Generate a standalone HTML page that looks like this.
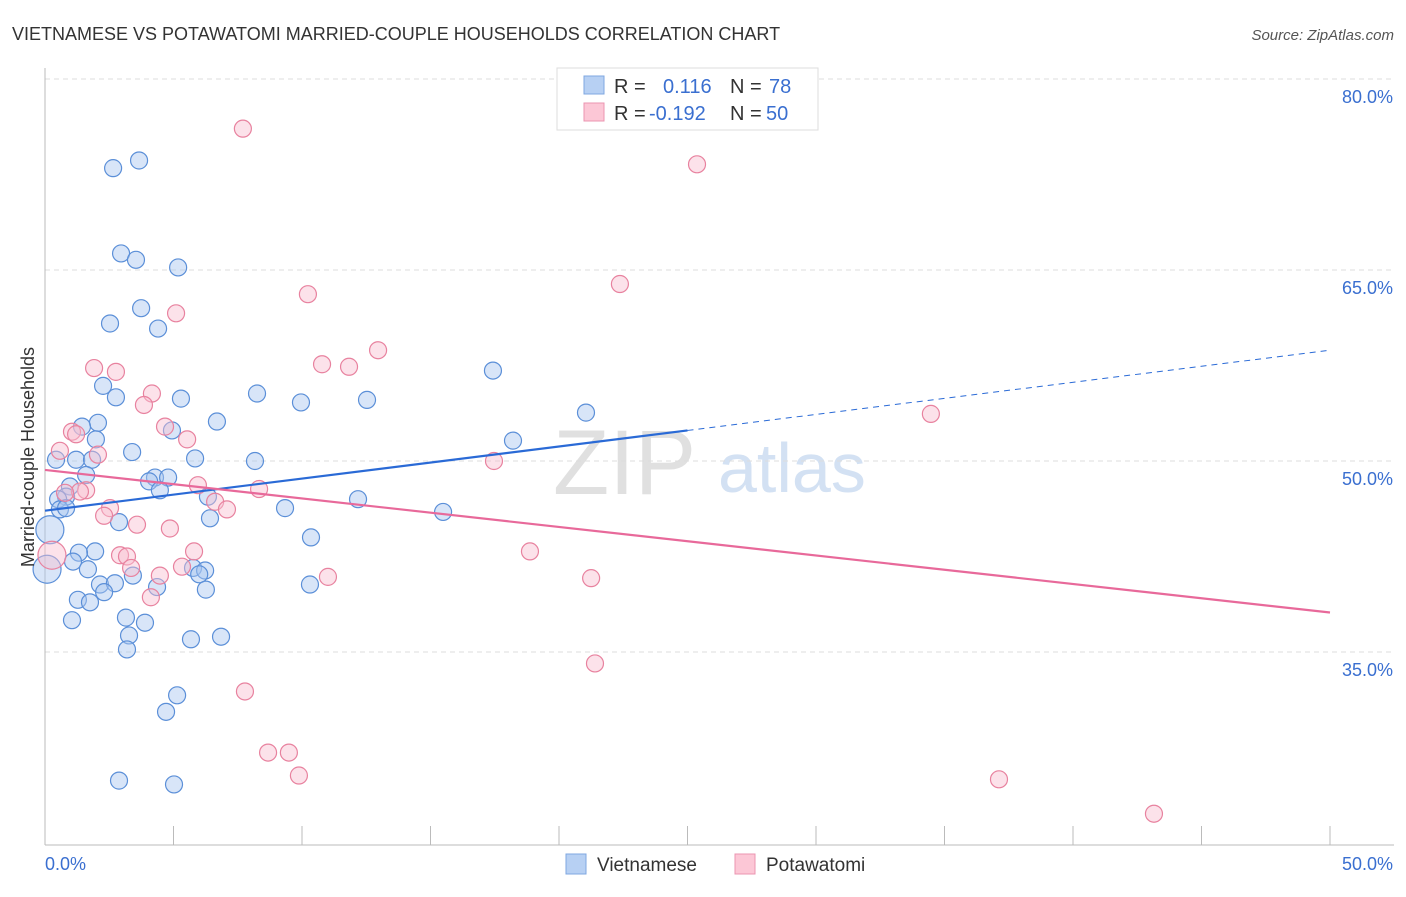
<!DOCTYPE html>
<html><head><meta charset="utf-8"><style>
body{margin:0;background:#fff;font-family:"Liberation Sans",sans-serif;}
svg text{font-family:"Liberation Sans",sans-serif;}
</style></head><body>
<svg id="c" width="1406" height="892" xmlns="http://www.w3.org/2000/svg">
<text x="12" y="40" font-size="18" fill="#333">VIETNAMESE VS POTAWATOMI MARRIED-COUPLE HOUSEHOLDS CORRELATION CHART</text>
<text x="1394" y="40" font-size="15" fill="#555" font-style="italic" text-anchor="end">Source: ZipAtlas.com</text>
<text x="553" y="494" font-size="92" fill="#e0e0e0" font-family="Liberation Serif">ZIP</text>
<text x="718" y="492" font-size="70" fill="#d3e1f3">atlas</text>
<g id="grid"></g>
<g id="axes"></g>
<g id="pts"></g>
<g id="trend"></g>
<text transform="translate(34,457) rotate(-90)" font-size="18" fill="#333" text-anchor="middle">Married-couple Households</text>
<g>
<rect x="557" y="68" width="261" height="62" fill="#fff" stroke="#ddd"/>
<rect x="584" y="76" width="20" height="18" fill="#b7d0f3" stroke="#7fa7e0"/>
<rect x="584" y="103" width="20" height="18" fill="#fcc7d6" stroke="#eb94b0"/>
<text x="614" y="93" font-size="20" fill="#333">R =</text>
<text x="663" y="93" font-size="20" fill="#3a6fd0">0.116</text>
<text x="730" y="93" font-size="20" fill="#333">N =</text>
<text x="769" y="93" font-size="20" fill="#3a6fd0">78</text>
<text x="614" y="120" font-size="20" fill="#333">R =</text>
<text x="649" y="120" font-size="20" fill="#3a6fd0">-0.192</text>
<text x="730" y="120" font-size="20" fill="#333">N =</text>
<text x="766" y="120" font-size="20" fill="#3a6fd0">50</text>
</g>
<g>
<rect x="566" y="854" width="20" height="20" fill="#b7d0f3" stroke="#7fa7e0"/>
<text x="597" y="871" font-size="19" fill="#333">Vietnamese</text>
<rect x="735" y="854" width="20" height="20" fill="#fcc7d6" stroke="#eb94b0"/>
<text x="766" y="871" font-size="19" fill="#333">Potawatomi</text>
</g>
</svg>
<script>
const blueX=[2.65,3.66,2.96,3.54,5.18,3.74,2.53,4.40,2.26,2.76,5.29,8.25,9.96,12.53,17.43,21.05,18.21,6.69,2.06,1.44,1.98,4.94,3.39,0.43,1.21,1.83,5.84,8.17,1.60,4.28,4.79,4.05,4.47,0.97,0.82,0.51,6.34,12.18,0.58,0.82,9.34,15.49,6.42,2.88,0.19,10.35,1.95,1.32,1.09,1.67,5.76,6.23,6.00,3.42,0.08,2.14,2.72,2.30,4.36,6.26,10.31,1.28,1.75,1.05,3.15,3.89,3.27,5.68,6.85,3.19,5.14,4.71,2.88,5.02];
const blueY=[73.0,73.6,66.3,65.8,65.2,62.0,60.8,60.4,55.9,55.0,54.9,55.3,54.6,54.8,57.1,53.8,51.6,53.1,53.0,52.7,51.7,52.4,50.7,50.1,50.1,50.1,50.2,50.0,48.9,48.7,48.7,48.4,47.7,48.0,47.2,47.0,47.2,47.0,46.2,46.3,46.3,46.0,45.5,45.2,44.6,44.0,42.9,42.8,42.1,41.5,41.6,41.4,41.1,41.0,41.5,40.3,40.4,39.7,40.1,39.9,40.3,39.1,38.9,37.5,37.7,37.3,36.3,36.0,36.2,35.2,31.6,30.3,24.9,24.6];
const pinkX=[7.70,25.37,22.37,10.23,5.10,12.96,10.78,11.83,1.91,2.76,4.16,3.85,34.47,1.05,1.21,4.67,5.53,0.58,2.06,17.47,5.95,8.33,1.60,1.36,0.78,6.62,7.08,2.53,2.30,3.58,4.86,18.87,5.80,2.92,3.19,0.27,3.35,5.33,4.47,11.01,21.25,4.12,21.40,7.78,8.68,9.49,9.88,37.12,43.15];
const pinkY=[76.1,73.3,63.9,63.1,61.6,58.7,57.6,57.4,57.3,57.0,55.3,54.4,53.7,52.3,52.1,52.7,51.7,50.8,50.5,50.0,48.1,47.8,47.7,47.6,47.5,46.8,46.2,46.3,45.7,45.0,44.7,42.9,42.9,42.6,42.5,42.6,41.6,41.7,41.0,40.9,40.8,39.3,34.1,31.9,27.1,27.1,25.3,25.0,22.3];
const blueTrend=[46.1,58.7];
const pinkTrend=[49.3,38.1];
const yTicks=[80,65,50,35];
const xTickLabels=["0.0%","50.0%"];
const NS="http://www.w3.org/2000/svg";
const sx=v=>45+v/50*1285;
const sy=v=>461-(v-50)/15*191;
function mk(p,t,a){const e=document.createElementNS(NS,t);for(const k in a)e.setAttribute(k,a[k]);p.appendChild(e);return e;}
const grid=document.getElementById('grid'),axes=document.getElementById('axes'),pts=document.getElementById('pts'),tr=document.getElementById('trend');
yTicks.forEach(t=>{
 const l=mk(grid,'line',{x1:45,x2:1394,y1:sy(t),y2:sy(t),stroke:'#ddd','stroke-dasharray':'5,4'});
 
 
 const tx=mk(grid,'text',{x:1393,y:sy(t)+24,'font-size':18,fill:'#3a6fd0','text-anchor':'end'});
 tx.textContent=t.toFixed(1)+'%';
 
 
});
const ya=mk(axes,'line',{x1:45,x2:45,y1:68,y2:845,stroke:'#bbb'});


const xa=mk(axes,'line',{x1:45,x2:1394,y1:845,y2:845,stroke:'#bbb'});


for(let i=0;i<=10;i++){const t=mk(axes,'line',{x1:sx(i*5),x2:sx(i*5),y1:826,y2:845,stroke:'#bbb'});
 
 }
[[0,'start'],[50,'end']].forEach((d,i)=>{const t=mk(axes,'text',{x:sx(d[0])+(i?63:0),y:870,'font-size':18,fill:'#3a6fd0','text-anchor':d[1]});t.textContent=xTickLabels[i];
 
 });
function dots(X,Y,fill,stroke,name){X.forEach((x,i)=>{const big=x<0.3;const c=mk(pts,'circle',{cx:sx(x),cy:sy(Y[i]),r:big?14:8.5,fill:fill,'fill-opacity':0.45,stroke:stroke,'stroke-width':1.2});
 
 });}
dots(blueX,blueY,'#a9c6ef','#5b8fd8','vietnamese-point');
dots(pinkX,pinkY,'#f9bfd0','#e8829f','potawatomi-point');
const bm=blueTrend[0]+(blueTrend[1]-blueTrend[0])/2;
let l=mk(tr,'line',{x1:sx(0),y1:sy(blueTrend[0]),x2:sx(25),y2:sy(bm),stroke:'#2a6ad6','stroke-width':2.2});


l=mk(tr,'line',{x1:sx(25),y1:sy(bm),x2:sx(50),y2:sy(blueTrend[1]),stroke:'#2a6ad6','stroke-width':1,'stroke-dasharray':'6,5'});


l=mk(tr,'line',{x1:sx(0),y1:sy(pinkTrend[0]),x2:sx(50),y2:sy(pinkTrend[1]),stroke:'#e8699a','stroke-width':2.2});


</script>
</body></html>
